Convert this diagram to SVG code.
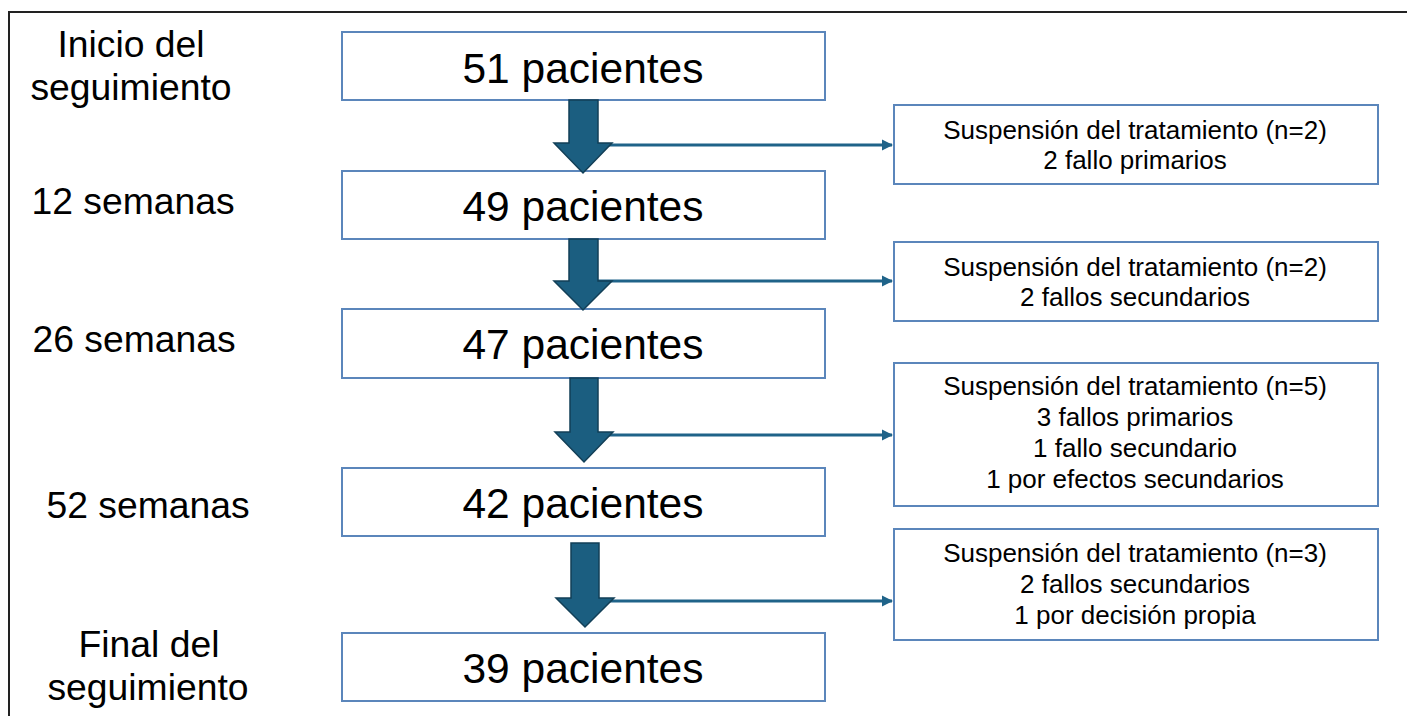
<svg xmlns="http://www.w3.org/2000/svg" width="1407" height="716" viewBox="0 0 1407 716">
<style>
.box{fill:#fff;stroke:#5b86bb;stroke-width:2}
.main{font-family:"Liberation Sans",Arial,sans-serif;font-size:42.5px;fill:#000;text-anchor:middle}
.lbl{font-family:"Liberation Sans",Arial,sans-serif;font-size:37.3px;fill:#000;text-anchor:middle}
.side{font-family:"Liberation Sans",Arial,sans-serif;font-size:26px;fill:#000;text-anchor:middle}
.big{fill:#1b5e80;stroke:#123f57;stroke-width:1.5}
.conn{stroke:#1f6389;stroke-width:3;fill:none}
</style>
<defs>
<marker id="ah" markerWidth="12" markerHeight="12" refX="10" refY="6" orient="auto" markerUnits="userSpaceOnUse">
<path d="M0,0.5 L11,6 L0,11.5 Z" fill="#1f6389"/>
</marker>
</defs>
<rect width="1407" height="716" fill="#fff"/>
<path d="M9,716 V12 H1407" fill="none" stroke="#222" stroke-width="2"/>

<g id="labels">
<text class="lbl" x="131" y="57">Inicio del</text>
<text class="lbl" x="131" y="100">seguimiento</text>
<text class="lbl" x="133" y="214">12 semanas</text>
<text class="lbl" x="134" y="352">26 semanas</text>
<text class="lbl" x="148" y="518">52 semanas</text>
<text class="lbl" x="149" y="657">Final del</text>
<text class="lbl" x="148" y="700">seguimiento</text>
</g>

<g id="n51"><rect class="box" x="342" y="32" width="483" height="68"/><text class="main" x="583" y="83">51 pacientes</text></g>
<g id="n49"><rect class="box" x="342" y="171" width="483" height="68"/><text class="main" x="583" y="221">49 pacientes</text></g>
<g id="n47"><rect class="box" x="342" y="309" width="483" height="69"/><text class="main" x="583" y="359">47 pacientes</text></g>
<g id="n42"><rect class="box" x="342" y="468" width="483" height="68"/><text class="main" x="583" y="518">42 pacientes</text></g>
<g id="n39"><rect class="box" x="342" y="633" width="483" height="68"/><text class="main" x="583" y="683">39 pacientes</text></g>

<g id="s1"><rect class="box" x="894" y="105" width="484" height="79"/>
<text class="side" x="1135" y="139">Suspensión del tratamiento (n=2)</text>
<text class="side" x="1135" y="169">2 fallo primarios</text></g>
<g id="s2"><rect class="box" x="894" y="242" width="484" height="79"/>
<text class="side" x="1135" y="276">Suspensión del tratamiento (n=2)</text>
<text class="side" x="1135" y="306">2 fallos secundarios</text></g>
<g id="s3"><rect class="box" x="894" y="363" width="484" height="143"/>
<text class="side" x="1135" y="395">Suspensión del tratamiento (n=5)</text>
<text class="side" x="1135" y="426">3 fallos primarios</text>
<text class="side" x="1135" y="457">1 fallo secundario</text>
<text class="side" x="1135" y="488">1 por efectos secundarios</text></g>
<g id="s4"><rect class="box" x="894" y="529" width="484" height="111"/>
<text class="side" x="1135" y="562">Suspensión del tratamiento (n=3)</text>
<text class="side" x="1135" y="593">2 fallos secundarios</text>
<text class="side" x="1135" y="624">1 por decisión propia</text></g>

<g id="connectors">
<line class="conn" x1="598" y1="145" x2="892" y2="145" marker-end="url(#ah)"/>
<line class="conn" x1="598" y1="281" x2="892" y2="281" marker-end="url(#ah)"/>
<line class="conn" x1="598" y1="435" x2="892" y2="435" marker-end="url(#ah)"/>
<line class="conn" x1="598" y1="601" x2="892" y2="601" marker-end="url(#ah)"/>
<polygon class="big" points="569,100 598,100 598,143 612,143 583,173 554,143 569,143"/>
<polygon class="big" points="569,239 598,239 598,281 612,281 583,310 554,281 569,281"/>
<polygon class="big" points="570,378 598,378 598,432 613,432 584,462 555,432 570,432"/>
<polygon class="big" points="571,543 599,543 599,598 614,598 585,627 556,598 571,598"/>
</g>
</svg>
